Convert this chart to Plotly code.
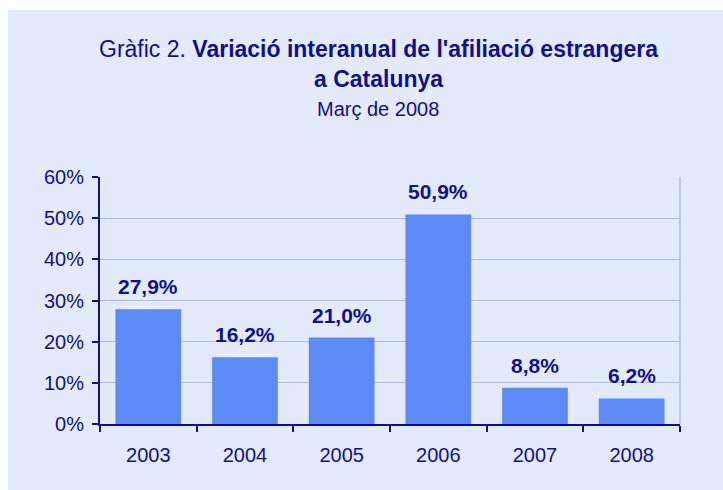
import plotly.graph_objects as go

years = ["2003", "2004", "2005", "2006", "2007", "2008"]
values = [0.279, 0.162, 0.210, 0.509, 0.088, 0.062]
labels = ["27,9%", "16,2%", "21,0%", "50,9%", "8,8%", "6,2%"]
y_ticks = [0, 0.1, 0.2, 0.3, 0.4, 0.5, 0.6]

navy = "#10108a"
panel = "#E3EAFB"
bar_color = "#5E8AF5"
grid = "#A8BEF2"
FONT = "Liberation Sans"

W, H = 723, 490
ml, mr, mt, mb = 100, 43, 177, 66
pw, ph = W - ml - mr, H - mt - mb

def px_x(p):
    return (p - ml) / pw

def px_y(p):
    return (H - mb - p) / ph

fig = go.Figure(go.Bar(
    x=years, y=values,
    marker=dict(color=bar_color, line=dict(width=0)),
    hoverinfo="skip",
))

annotations = []
for i, (v, lab) in enumerate(zip(values, labels)):
    annotations.append(dict(
        x=i, y=v, xref="x", yref="y", text="<b>" + lab + "</b>",
        showarrow=False, yanchor="bottom", yshift=9,
        font=dict(size=21, color=navy, family=FONT),
    ))

title_lines = [
    ("Gràfic 2. <b>Variació interanual de l'afiliació estrangera</b>", 23, 49),
    ("<b>a Catalunya</b>", 23, 79),
    ("Març de 2008", 20, 109),
]
for txt, size, ypx in title_lines:
    annotations.append(dict(
        x=px_x(378), y=px_y(ypx), xref="paper", yref="paper", text=txt,
        showarrow=False, xanchor="center", yanchor="middle",
        font=dict(size=size, color=navy, family=FONT),
    ))

fig.update_layout(
    width=W, height=H,
    margin=dict(l=ml, r=mr, t=mt, b=mb, autoexpand=False),
    paper_bgcolor=panel, plot_bgcolor=panel,
    font=dict(family=FONT, color=navy, size=20),
    bargap=0.32,
    showlegend=False,
    annotations=annotations,
    xaxis=dict(
        type="category", automargin=False, tickangle=0,
        categoryorder="array", categoryarray=years,
        range=[-0.5, len(years) - 0.5],
        showline=True, linecolor=navy, linewidth=2,
        ticks="outside", tickson="boundaries", ticklen=6, tickcolor=navy, tickwidth=2,
        tickfont=dict(size=20, color=navy), ticklabelstandoff=12,
        showgrid=False,
    ),
    yaxis=dict(
        automargin=False,
        range=[0, 0.6], tickvals=y_ticks, tickformat=".0%",
        showline=True, linecolor=navy, linewidth=2,
        ticks="outside", ticklen=6, tickcolor=navy, tickwidth=2,
        tickfont=dict(size=20, color=navy), ticklabelstandoff=4,
        showgrid=True, gridcolor=grid, gridwidth=1, zeroline=False,
    ),
    shapes=[
        dict(type="line", xref="paper", yref="paper", x0=1, x1=1, y0=0, y1=1,
             line=dict(color=grid, width=1.5)),
        dict(type="rect", xref="paper", yref="paper", x0=px_x(-5), x1=px_x(8),
             y0=px_y(H + 5), y1=px_y(-5), fillcolor="white", line=dict(width=0), layer="below"),
        dict(type="rect", xref="paper", yref="paper", x0=px_x(-5), x1=px_x(W + 5),
             y0=px_y(10), y1=px_y(-5), fillcolor="white", line=dict(width=0), layer="below"),
    ],
)

fig.write_html("out.html")
